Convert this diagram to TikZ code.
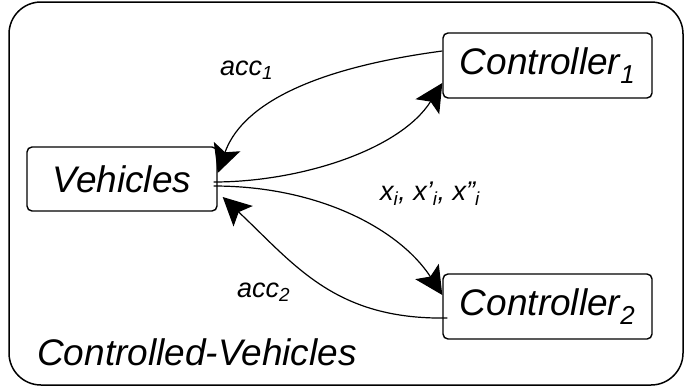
\documentclass[tikz,border=0pt]{standalone}
\usepackage{fontspec}
\setmainfont{Liberation Sans}
\usetikzlibrary{arrows.meta}
\begin{document}
\begin{tikzpicture}[x=1pt,y=-1pt,
  boxnode/.style={draw,line width=1.4pt,rounded corners=5pt,inner sep=0pt,
    font=\fontsize{37}{40}\selectfont\itshape},
  lbl/.style={anchor=base west,inner sep=0pt,font=\fontsize{27}{30}\selectfont\itshape},
  conn/.style={line width=1.2pt,-{Stealth[length=28pt,width=28pt,inset=6pt]}}]
\useasboundingbox (0,0) rectangle (692,388);
\draw[line width=1.5pt,rounded corners=32pt] (9,2) rectangle (683,385);
\node[boxnode,minimum width=190pt,minimum height=64pt] (veh) at (122,179) {Vehicles};
\node[boxnode,minimum width=209pt,minimum height=65pt] (c1) at (547.5,65.5) {Controller\textsubscript{1}};
\node[boxnode,minimum width=209pt,minimum height=65pt] (c2) at (547.5,306.5) {Controller\textsubscript{2}};
\node[lbl] (lacc1) at (220,75) {acc\textsubscript{1}};
\node[lbl] (lacc2) at (237,297) {acc\textsubscript{2}};
\node[lbl] (lx) at (380,200) {x\textsubscript{i}, x'\textsubscript{i}, x''\textsubscript{i}};
\node[anchor=base west,inner sep=0pt,font=\fontsize{37}{40}\selectfont\itshape] (title) at (37,365) {Controlled-Vehicles};
\draw[conn] ([yshift=14.5pt]c1.west) .. controls (300,70) and (240,110) .. ([yshift=6pt]veh.east);
\draw[conn] ([xshift=-4pt,yshift=-3pt]veh.east) .. controls (300,182) and (400,150) .. ([yshift=-17.5pt]c1.west);
\draw[conn] ([xshift=-4pt,yshift=-7pt]veh.east) .. controls (320,186) and (400,230) .. ([yshift=11.5pt]c2.west);
\draw[conn] ([xshift=5pt,yshift=-11.5pt]c2.west) .. controls (335,320) and (295,265) .. ([xshift=5pt,yshift=-18pt]veh.east);
\end{tikzpicture}
\end{document}
